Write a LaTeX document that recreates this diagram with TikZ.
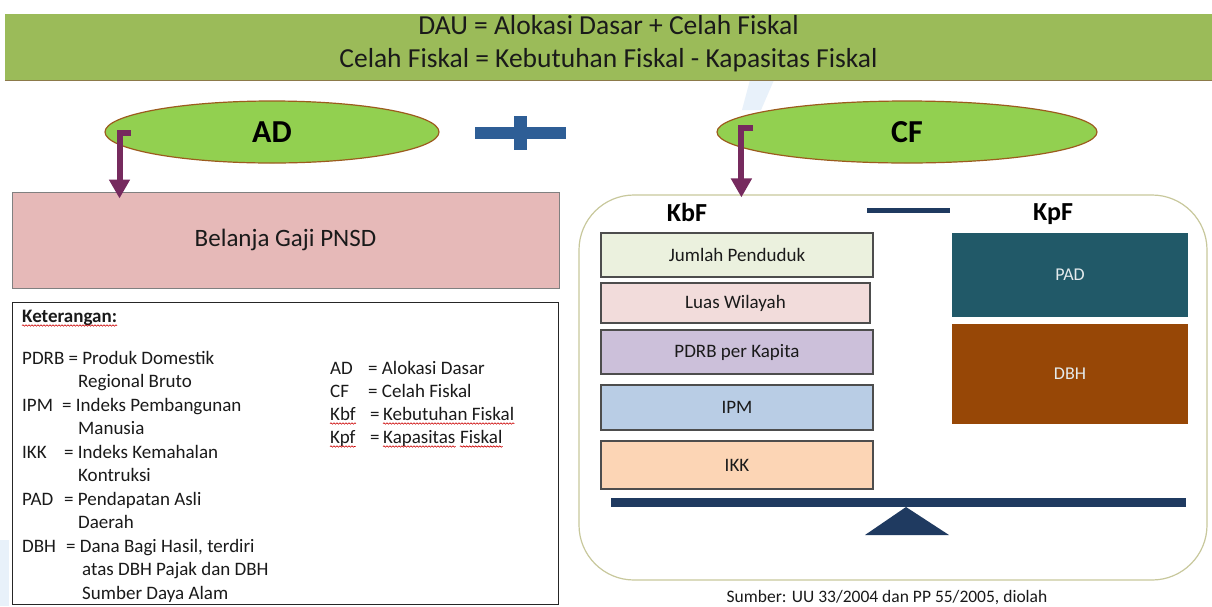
\documentclass[tikz,border=0pt]{standalone}
\usepackage{fontspec}
\setmainfont{Carlito}
\usetikzlibrary{shapes.geometric,arrows.meta,decorations.pathmorphing,calc}
\definecolor{banner}{HTML}{9BBB59}
\definecolor{bannerline}{HTML}{8C7A4A}
\definecolor{ellfill}{HTML}{92D050}
\definecolor{ellline}{HTML}{9C5B1E}
\definecolor{plusc}{HTML}{2E5E96}
\definecolor{arrc}{HTML}{762A5E}
\definecolor{pinkf}{HTML}{E6B9B8}
\definecolor{navy}{HTML}{1F3A60}
\definecolor{framec}{HTML}{C8C89C}
\definecolor{boxline}{HTML}{4D4D4D}
\definecolor{jpf}{HTML}{EBF1DE}
\definecolor{lwf}{HTML}{F2DCDB}
\definecolor{pdf}{HTML}{CCC0DA}
\definecolor{ipf}{HTML}{B9CDE5}
\definecolor{ikf}{HTML}{FCD5B5}
\definecolor{padf}{HTML}{215968}
\definecolor{dbhf}{HTML}{974706}
\definecolor{txt}{HTML}{1A1A1A}
\definecolor{wm}{HTML}{E8F1FA}
\tikzset{
  ell/.style={ellipse, draw=ellline, line width=1.2pt, fill=ellfill, font=\bfseries\fontsize{32}{36}\selectfont, text=black},
  arr/.style={draw=arrc, line width=6pt, -{Triangle[width=20pt,length=19pt]}},
  lg/.style={anchor=base west, inner sep=0pt, text=txt, font=\fontsize{19}{23}\selectfont},
  kbox/.style={draw=boxline, line width=1.2pt, minimum width=272pt, minimum height=44pt, inner sep=0pt, text=txt, font=\fontsize{19}{23}\selectfont},
  fbox/.style={minimum width=236pt, inner sep=0pt, text=white!88!padf, font=\fontsize{18}{22}\selectfont},
  hdr/.style={anchor=base, inner sep=0pt, font=\bfseries\fontsize{26}{30}\selectfont, text=black},
  wavy/.style={draw=red!80!black, line width=0.6pt, decorate, decoration={snake, amplitude=0.7pt, segment length=3pt}}
}
\begin{document}
\begin{tikzpicture}[x=1pt,y=-1pt]
\clip (0,0) rectangle (1212,606);
\fill[white] (0,0) rectangle (1212,606);
% faint background marks
\fill[wm] (750,80) -- (774,80) -- (761,110) -- (742,110) -- cycle;
\fill[wm] (0,540) rectangle (9,606);
% banner
\node[fill=banner, minimum width=1207pt, minimum height=66pt, inner sep=0pt] (ban) at (608.5,47) {};
\draw[bannerline, line width=1.2pt] (ban.south west) -- (ban.south east);
\node[anchor=base, inner sep=0pt, text=txt, font=\fontsize{27.5}{33}\selectfont] (l1) at (608.5,34) {DAU = Alokasi Dasar + Celah Fiskal};
\node[anchor=base, inner sep=0pt, text=txt, font=\fontsize{27.5}{33}\selectfont] (l2) at (608.5,67) {Celah Fiskal = Kebutuhan Fiskal - Kapasitas Fiskal};
% ellipses
\node[ell, minimum width=334pt, minimum height=62pt] (ad) at (272,132) {AD};
\node[ell, minimum width=380pt, minimum height=62pt] (cf) at (907,132) {CF};
% plus sign
\fill[plusc] (475,127) rectangle (566,139);
\fill[plusc] (514,116) rectangle (527,150);
% left boxes
\node[draw=gray, line width=1pt, fill=pinkf, minimum width=547pt, minimum height=96pt, text=txt, font=\fontsize{25}{30}\selectfont] (gaji) at (285.5,240) {Belanja Gaji PNSD};
\node[draw=black!85, line width=1pt, minimum width=546pt, minimum height=302pt] (ket) at (285,453) {};
% arrows
\coordinate (adh) at (131,133);
\coordinate (adt) at ($(gaji.north west)+(108,7)$);
\draw[arr] (adh) -| (adt);
% right frame
\node[draw=framec, line width=1.2pt, rounded corners=55pt, minimum width=628pt, minimum height=385pt] (frm) at (893,387.5) {};
\coordinate (cfh) at (753,128);
\coordinate (cft) at ($(frm.north west)+(163,3)$);
\draw[arr] (cfh) -| (cft);
% legend
\node[lg, font=\bfseries\fontsize{19}{23}\selectfont] (ketl) at (22,322) {Keterangan:};
\node[lg] (p1) at (22,364) {PDRB = Produk Domestik};
\node[lg] (p2) at (78,387.5) {Regional Bruto};
\node[lg] (i1) at (22,411) {IPM};
\node[lg] (i1b) at (62,411) {= Indeks Pembangunan};
\node[lg] (i2) at (78,434.5) {Manusia};
\node[lg] (k1) at (22,458) {IKK};
\node[lg] (k1b) at (64,458) {= Indeks Kemahalan};
\node[lg] (k2) at (78,481.5) {Kontruksi};
\node[lg] (a1) at (22,505) {PAD};
\node[lg] (a1b) at (64,505) {= Pendapatan Asli};
\node[lg] (a2) at (78,528.5) {Daerah};
\node[lg] (d1) at (22,552) {DBH};
\node[lg] (d1b) at (66,552) {= Dana Bagi Hasil, terdiri};
\node[lg] (d2) at (82,575.5) {atas DBH Pajak dan DBH};
\node[lg] (d3) at (82,599) {Sumber Daya Alam};
\node[lg] (r1) at (330,374) {AD};
\node[lg] (r1b) at (368,374) {= Alokasi Dasar};
\node[lg] (r2) at (330,397) {CF};
\node[lg] (r2b) at (368,397) {= Celah Fiskal};
\node[lg] (r3) at (330,420) {Kbf};
\node[lg] (r3b) at (370,420) {=};
\node[lg] (r3c) at (383,420) {Kebutuhan Fiskal};
\node[lg] (r4) at (330,443) {Kpf};
\node[lg] (r4b) at (370,443) {=};
\node[lg] (r4c) at (383,443) {Kapasitas};
\node[lg] (r4d) at ($(r4c.base east)+(4.3,0)$) {Fiskal};
\foreach \n in {ketl,r3,r3c,r4,r4c,r4d}{
  \draw[wavy] ([yshift=-3.5pt]\n.base west) -- ([yshift=-3.5pt]\n.base east);
}
% KbF / KpF
\node[hdr] (kbf) at (687,221) {KbF};
\node[hdr] (kpf) at (1053,220) {KpF};
\fill[navy] (867,207.5) rectangle (950,212.5);
\node[kbox, fill=jpf] (jp) at (737,255) {Jumlah Penduduk};
\node[kbox, fill=lwf, minimum width=269pt, minimum height=40pt] (lw) at (735.5,303) {Luas Wilayah};
\node[kbox, fill=pdf] (pk) at (737,352) {PDRB per Kapita};
\node[kbox, fill=ipf, minimum height=45pt] (ip) at (737,407.5) {IPM};
\node[kbox, fill=ikf, minimum height=48pt] (ik) at (737,465) {IKK};
\node[fbox, fill=padf, minimum height=84pt] (pad) at (1070,275) {PAD};
\node[fbox, fill=dbhf, minimum height=100pt] (dbh) at (1070,374) {DBH};
% balance
\fill[navy] (611,498) rectangle (1186,507);
\fill[navy] (906,507) -- (949,535) -- (865,535) -- cycle;
% source
\node[anchor=base, inner sep=0pt, text=txt, font=\fontsize{17.5}{21}\selectfont] (src) at (887,602) {Sumber: UU 33/2004 dan PP 55/2005, diolah};
\end{tikzpicture}
\end{document}
